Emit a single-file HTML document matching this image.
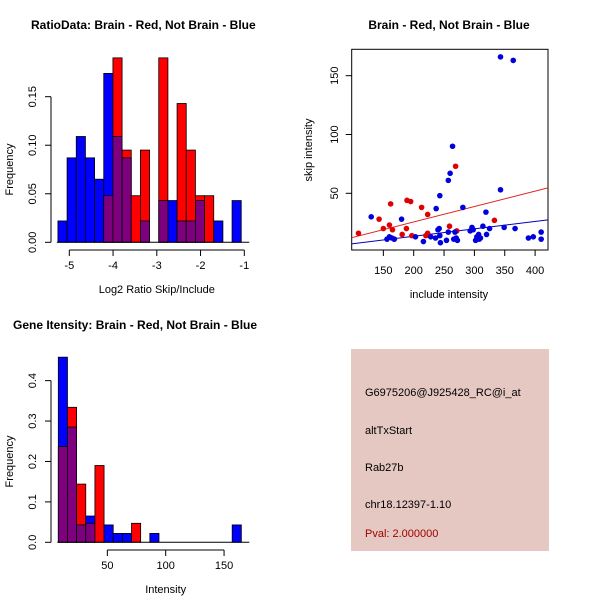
<!DOCTYPE html>
<html><head><meta charset="utf-8"><style>
body{margin:0;background:#fff}
svg{display:block;font-family:"Liberation Sans",sans-serif}
</style></head><body>
<svg id="chart" width="600" height="600">
<rect width="600" height="600" fill="#fff"/>
<g id="p1"></g>
<g id="p2"></g>
<g id="p3"></g>
<g>
<rect x="351" y="349" width="198" height="202" fill="#e5c8c2"/>
<text x="365" y="396" font-size="11">G6975206@J925428_RC@i_at</text>
<text x="365" y="434" font-size="11">altTxStart</text>
<text x="365" y="471" font-size="11">Rab27b</text>
<text x="365" y="508" font-size="11">chr18.12397-1.10</text>
<text x="365" y="537" font-size="11" fill="#a00000">Pval: 2.000000</text>
</g>
</svg>
<script>
// Plot 1 data
const ratioBinStart = -5.26, ratioBinWidth = 0.2095;
const ratioBlue = [0.022,0.087,0.109,0.087,0.065,0.174,0.109,0.087,0,0.022,0,0.043,0.043,0.022,0.022,0.043,0,0.022,0,0.043];
const ratioRed  = [0,0,0,0,0,0.048,0.19,0.095,0.048,0.095,0,0.19,0,0.143,0.095,0.048,0.048,0,0,0];
const ratioXTicks = [-5,-4,-3,-2,-1];
const ratioYTicks = [0,0.05,0.10,0.15];
const ratioYLabels = ["0.00","0.05","0.10","0.15"];
// Plot 3 data
const intBinStart = 8, intBinWidth = 7.84;
const intBlue = [0.458,0.285,0.043,0.065,0,0.043,0.022,0.022,0,0,0.022,0,0,0,0,0,0,0,0,0.043];
const intRed  = [0.237,0.334,0.144,0.047,0.19,0,0,0,0.047,0,0,0,0,0,0,0,0,0,0,0];
const intXTicks = [50,100,150];
const intYTicks = [0,0.1,0.2,0.3,0.4];
const intYLabels = ["0.0","0.1","0.2","0.3","0.4"];
// Plot 2 data
const redX = [109,143,150,160,162,165,168,181,188,189,195,197,213,220,223,223,259,269,271,333];
const redY = [16,28,20,23,41,19,11,15,20,44,43,14,38,14,16,32,22,73,18,27];
const blueX = [130,156,160,164,168,180,203,216,228,236,237,240,242,243,243,244,254,257,257,260,264,266,268,270,272,281,293,296,298,302,304,307,308,310,314,319,320,325,343,343,349,364,367,389,397,410,410];
const blueY = [30,11,13,12,11,28,13,9,13,12,37,19,20,14,48,8,10,17,61,67,90,11,17,12,10,38,18,21,19,10,13,15,11,12,22,34,15,20,53,166,21,163,20,12,13,17,11];
const redFit = [-0.56,0.131];
const blueFit = [0.83,0.063];
const scatXTicks = [150,200,250,300,350,400];
const scatYTicks = [50,100,150];

const NS="http://www.w3.org/2000/svg";
function mk(parent,tag,attrs,name,txt){
  const e=document.createElementNS(NS,tag);
  for(const k in attrs) e.setAttribute(k,attrs[k]);
  
  
  if(txt!==undefined) e.textContent=txt;
  parent.appendChild(e); return e;
}
const BLUE="#0000ff", RED="#ff0000", PURPLE="#7f007f";

function hist(g,title,titleX,titleY,xl,yl,binStart,binW,blue,red,xTicks,yTicks,yLabels,X,Y,xAxisY,yAxisX,tickRange,ylabX){
  mk(g,'text',{x:titleX,y:titleY,'font-size':12,'font-weight':'bold'},'plot-title',title);
  for(let i=0;i<blue.length;i++){
    const x0=X(binStart+i*binW), x1=X(binStart+(i+1)*binW);
    const hi=Math.max(blue[i],red[i]), lo=Math.min(blue[i],red[i]);
    if(hi>0){ mk(g,'rect',{x:x0,y:Y(hi),width:x1-x0,height:Y(0)-Y(hi),fill:blue[i]>=red[i]?BLUE:RED,stroke:'#000','stroke-width':0.8},'bar-'+i); }
    if(lo>0){ mk(g,'rect',{x:x0,y:Y(lo),width:x1-x0,height:Y(0)-Y(lo),fill:PURPLE,stroke:'#000','stroke-width':0.8},'overlap-bar-'+i); }
  }
  mk(g,'line',{x1:X(binStart)-1,x2:X(binStart+blue.length*binW)+8,y1:Y(0),y2:Y(0),stroke:'#000'},'baseline');
  mk(g,'line',{x1:yAxisX,x2:yAxisX,y1:Y(yTicks[0]),y2:Y(yTicks[yTicks.length-1]),stroke:'#000'},'y-axis');
  yTicks.forEach((t,i)=>{
    mk(g,'line',{x1:yAxisX-6,x2:yAxisX,y1:Y(t),y2:Y(t),stroke:'#000'},'y-tick');
    mk(g,'text',{x:yAxisX-15,y:Y(t),'font-size':11,'text-anchor':'middle',transform:`rotate(-90 ${yAxisX-15} ${Y(t)})`},'y-tick-label',yLabels[i]);
  });
  mk(g,'line',{x1:X(tickRange[0]),x2:X(tickRange[1]),y1:xAxisY,y2:xAxisY,stroke:'#000'},'x-axis');
  xTicks.forEach(t=>{
    mk(g,'line',{x1:X(t),x2:X(t),y1:xAxisY,y2:xAxisY+6,stroke:'#000'},'x-tick');
    mk(g,'text',{x:X(t),y:xAxisY+19,'font-size':11,'text-anchor':'middle'},'x-tick-label',String(t));
  });
  mk(g,'text',{x:(X(tickRange[0])+X(tickRange[1]))/2,y:xAxisY+43,'font-size':11,'text-anchor':'middle'},'x-axis-title',xl);
  const cy=(Y(yTicks[0])+Y(yTicks[yTicks.length-1]))/2;
  mk(g,'text',{x:ylabX,y:cy,'font-size':11,'text-anchor':'middle',transform:`rotate(-90 ${ylabX} ${cy})`},'y-axis-title',yl);
}

const g1=document.getElementById('p1');
const X1=v=>69.3+(v+5)*43.75, Y1=v=>242.3-v*970.7;
hist(g1,'RatioData: Brain - Red, Not Brain - Blue',31,29,'Log2 Ratio Skip/Include','Frequency',ratioBinStart,ratioBinWidth,ratioBlue,ratioRed,ratioXTicks,ratioYTicks,ratioYLabels,X1,Y1,250,51,[-5,-1],13);
const g3=document.getElementById('p3');
const X3=v=>48.97+v*1.1673, Y3=v=>542.3-v*404.2;
hist(g3,'Gene Itensity: Brain - Red, Not Brain - Blue',13,329,'Intensity','Frequency',intBinStart,intBinWidth,intBlue,intRed,intXTicks,intYTicks,intYLabels,X3,Y3,550,51,[50,150],13);

const g2=document.getElementById('p2');
const X2=v=>292.3+v*0.607, Y2=v=>252.1-v*1.176;
mk(g2,'text',{x:449,y:29,'font-size':12,'font-weight':'bold','text-anchor':'middle'},'plot-title','Brain - Red, Not Brain - Blue');
mk(g2,'rect',{x:351.7,y:49.3,width:196.3,height:200.7,fill:'none',stroke:'#000'},'plot-box');
const cp=mk(g2,'clipPath',{id:'cp2'},'clip'); mk(cp,'rect',{x:351.7,y:49.3,width:196.3,height:200.7},'clip-rect');
const xa=p=>(p-292.3)/0.607;
const xl=xa(351.7), xr=xa(548);
[[redFit,'#dd2222','red-fit-line'],[blueFit,'#0000bb','blue-fit-line']].forEach(([f,c,n])=>{
  mk(g2,'line',{x1:X2(xl),x2:X2(xr),y1:Y2(f[0]+f[1]*xl),y2:Y2(f[0]+f[1]*xr),stroke:c,'clip-path':'url(#cp2)'},n);
});
redX.forEach((x,i)=>mk(g2,'circle',{cx:X2(x),cy:Y2(redY[i]),r:2.8,fill:'#e00000'},'red-point'));
blueX.forEach((x,i)=>mk(g2,'circle',{cx:X2(x),cy:Y2(blueY[i]),r:2.8,fill:'#0000dd'},'blue-point'));
scatXTicks.forEach(t=>{
  mk(g2,'line',{x1:X2(t),x2:X2(t),y1:250,y2:256,stroke:'#000'},'x-tick');
  mk(g2,'text',{x:X2(t),y:274,'font-size':11,'text-anchor':'middle'},'x-tick-label',String(t));
});
scatYTicks.forEach(t=>{
  mk(g2,'line',{x1:345.7,x2:351.7,y1:Y2(t),y2:Y2(t),stroke:'#000'},'y-tick');
  mk(g2,'text',{x:338,y:Y2(t),'font-size':11,'text-anchor':'middle',transform:`rotate(-90 338 ${Y2(t)})`},'y-tick-label',String(t));
});
mk(g2,'text',{x:449,y:298,'font-size':11,'text-anchor':'middle'},'x-axis-title','include intensity');
mk(g2,'text',{x:312,y:150,'font-size':11,'text-anchor':'middle',transform:'rotate(-90 312 150)'},'y-axis-title','skip intensity');
</script>
</body></html>
